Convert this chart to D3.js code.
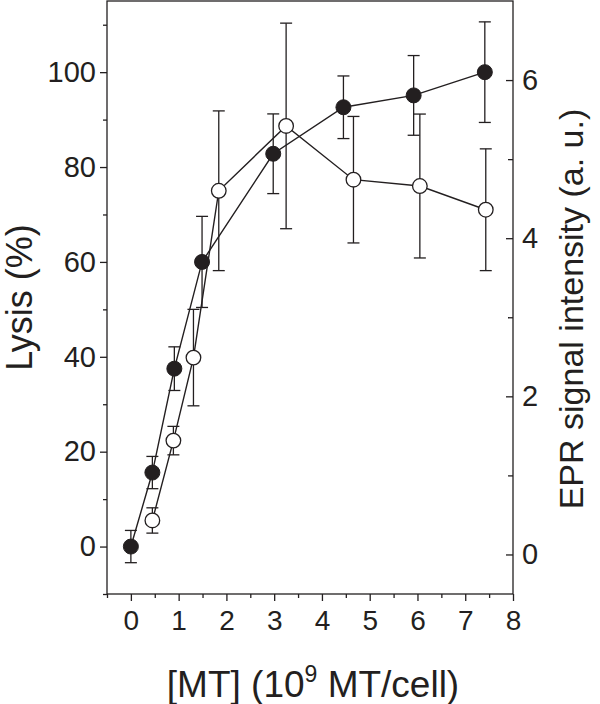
<!DOCTYPE html>
<meta charset="utf-8">
<head>
    <script src="https://d3js.org/d3.v7.min.js"></script>
    <style>
        body { margin: 0; background: white; }
        text { font-family: "Liberation Sans", Arial, sans-serif; fill: #231f20; }
    </style>
</head>
<body>
<div id="my_dataviz"></div>
<script>
    // filled circles: lysis (left axis)
    const lysisDose = [0, 0.45, 0.91, 1.49, 2.98, 4.45, 5.92, 7.41];
    const lysis = [0, 15.6, 37.5, 60, 82.8, 92.6, 95.1, 100];
    const lysisErr = [3.4, 3.4, 4.6, 9.6, 8.4, 6.6, 8.4, 10.6];

    // open circles: EPR signal (right axis)
    const eprDose = [0.45, 0.89, 1.31, 1.84, 3.25, 4.66, 6.05, 7.43];
    const epr = [0.43, 1.44, 2.49, 4.60, 5.42, 4.74, 4.66, 4.36];
    const eprErr = [0.16, 0.18, 0.61, 1.01, 1.30, 0.80, 0.91, 0.77];

    const xTicks = [0, 1, 2, 3, 4, 5, 6, 7, 8];
    const leftTicks = [0, 20, 40, 60, 80, 100];
    const rightTicks = [0, 2, 4, 6];

    const ink = "#231f20";
    const plotL = 107, plotR = 513, plotT = 1, plotB = 594;

    const svg = d3.select("#my_dataviz").append("svg")
        .attr("width", 600)
        .attr("height", 704);

    const x = d3.scaleLinear().domain([-0.5, 8]).range([plotL, plotR]);
    const y = d3.scaleLinear().domain([-10, 115]).range([plotB, plotT]);
    const y2 = d3.scaleLinear().domain([-0.5, 7]).range([plotB, plotT]);

    // frame
    svg.append("rect")
        .attr("x", plotL).attr("y", plotT)
        .attr("width", plotR - plotL).attr("height", plotB - plotT)
        .attr("fill", "none").attr("stroke", ink).attr("stroke-width", 1.3);

    // bottom axis
    const xAxis = d3.axisBottom(x).tickValues(xTicks).tickSize(7).tickPadding(9).tickFormat(d3.format("d"));
    const gx = svg.append("g").attr("transform", `translate(0, ${plotB})`).call(xAxis);
    svg.append("g").attr("transform", `translate(0, ${plotB})`)
        .call(d3.axisBottom(x).tickValues(d3.range(-0.5, 8, 1)).tickSize(4).tickFormat(""));

    // left axis
    const gy = svg.append("g").attr("transform", `translate(${plotL}, 0)`)
        .call(d3.axisLeft(y).tickValues(leftTicks).tickSize(7).tickPadding(4));
    svg.append("g").attr("transform", `translate(${plotL}, 0)`)
        .call(d3.axisLeft(y).tickValues(d3.range(-10, 115, 20)).tickSize(4).tickFormat(""));

    // right axis, ticks point inward
    const gy2 = svg.append("g").attr("transform", `translate(${plotR}, 0)`)
        .call(d3.axisRight(y2).tickValues(rightTicks).tickSizeInner(-7).tickSizeOuter(0).tickPadding(9));
    svg.append("g").attr("transform", `translate(${plotR}, 0)`)
        .call(d3.axisRight(y2).tickValues([1, 3, 5]).tickSizeInner(-5).tickSizeOuter(0).tickFormat(""));

    svg.selectAll(".domain").remove();
    svg.selectAll(".tick line").attr("stroke", ink).attr("stroke-width", 1.3);
    svg.selectAll(".tick text").attr("font-size", 29).attr("fill", ink)
        .style("font-family", "'Liberation Sans', Arial, sans-serif");
    gx.selectAll(".tick text").attr("font-size", 28);

    // axis titles
    svg.append("text")
        .attr("transform", `translate(32, ${(plotT + plotB) / 2}) rotate(-90)`)
        .attr("text-anchor", "middle")
        .attr("font-size", 36)
        .text("Lysis (%)");

    svg.append("text")
        .attr("transform", `translate(583, 309) rotate(-90)`)
        .attr("text-anchor", "middle")
        .attr("font-size", 34)
        .text("EPR signal intensity (a. u.)");

    const xt = svg.append("text")
        .attr("x", 313).attr("y", 697)
        .attr("text-anchor", "middle")
        .attr("font-size", 37);
    xt.append("tspan").text("[MT] (10");
    xt.append("tspan").attr("font-size", 23).attr("dy", -15).text("9");
    xt.append("tspan").attr("dy", 15).text(" MT/cell)");

    const lysisData = lysisDose.map((d, i) => ({ x: x(d), y: y(lysis[i]), lo: y(lysis[i] - lysisErr[i]), hi: y(lysis[i] + lysisErr[i]) }));
    const eprData = eprDose.map((d, i) => ({ x: x(d), y: y2(epr[i]), lo: y2(epr[i] - eprErr[i]), hi: y2(epr[i] + eprErr[i]) }));

    const line = d3.line().x(d => d.x).y(d => d.y);

    [lysisData, eprData].forEach(data => {
        svg.append("path")
            .datum(data)
            .attr("d", line)
            .attr("fill", "none")
            .attr("stroke", ink)
            .attr("stroke-width", 1.4);
    });

    // error bars
    [lysisData, eprData].forEach(data => {
        const eb = svg.append("g").attr("stroke", ink).attr("stroke-width", 1.3);
        eb.selectAll(".stem").data(data).enter().append("line")
            .attr("x1", d => d.x).attr("x2", d => d.x)
            .attr("y1", d => d.lo).attr("y2", d => d.hi);
        eb.selectAll(".capt").data(data).enter().append("line")
            .attr("x1", d => d.x - 6).attr("x2", d => d.x + 6)
            .attr("y1", d => d.hi).attr("y2", d => d.hi);
        eb.selectAll(".capb").data(data).enter().append("line")
            .attr("x1", d => d.x - 6).attr("x2", d => d.x + 6)
            .attr("y1", d => d.lo).attr("y2", d => d.lo);
    });

    svg.append("g").selectAll("circle")
        .data(eprData)
        .enter()
        .append("circle")
        .attr("cx", d => d.x).attr("cy", d => d.y)
        .attr("r", 7.3)
        .attr("fill", "white")
        .attr("stroke", ink)
        .attr("stroke-width", 1.3);

    svg.append("g").selectAll("circle")
        .data(lysisData)
        .enter()
        .append("circle")
        .attr("cx", d => d.x).attr("cy", d => d.y)
        .attr("r", 7.5)
        .attr("fill", ink)
        .attr("stroke", ink)
        .attr("stroke-width", 1);
</script>
</body>
